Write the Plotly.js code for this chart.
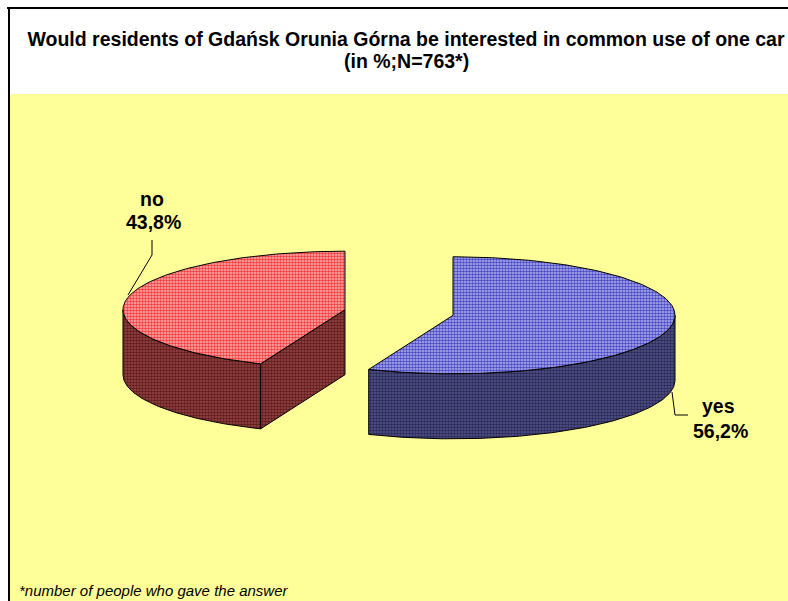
<!DOCTYPE html>
<html><head><meta charset="utf-8">
<script src="https://cdn.plot.ly/plotly-3.0.1.min.js"></script>
<style>html,body{margin:0;padding:0;background:#fff;overflow:hidden}</style>
</head><body><div id="chart" style="width:788px;height:601px"></div>
<script>
// ---- data ----
const categories = ["yes", "no"];
const values = [56.2, 43.8];
const titleLine1 = "Would residents of Gdańsk Orunia Górna be interested in common use of one car";
const titleLine2 = "(in %;N=763*)";
const footnote = "*number of people who gave the answer";

// ---- styling / geometry ----
const W = 788, H = 601;
const CX = 399, CY = 312.5, RX = 222, RY = 58.5, DEPTH = 65, EXPLODE = 0.248;
const topColors = ["#7B7BDB", "#F26C6C"];
const sideColors = ["#3D3D72", "#7E2E2E"];
const topPattern = [{ bg: "#B4B4EE", fg: "#4848C4" }, { bg: "#FFB4B4", fg: "#F03C3C" }];
const sidePattern = [{ bg: "#55558A", fg: "#2A2A5A" }, { bg: "#9A4646", fg: "#5E1C1C" }];
const FONT = "Liberation Sans, Arial, sans-serif";

const total = values.reduce((a, b) => a + b, 0);
const rad = d => d * Math.PI / 180;
function pt(c, deg, dy) { return [c[0] + RX * Math.cos(rad(deg)), c[1] - RY * Math.sin(rad(deg)) + (dy || 0)]; }
function arc(c, from, to, dy) {
  const pts = [], n = Math.max(2, Math.ceil(Math.abs(from - to)));
  for (let k = 0; k <= n; k++) pts.push(pt(c, from + (to - from) * k / n, dy));
  return pts;
}
function poly(pts, fill, pat, name) {
  return { type: "scatter", mode: "lines", x: pts.map(p => p[0]), y: pts.map(p => p[1]),
    fill: "toself", fillcolor: fill,
    fillpattern: { shape: ".", size: 3, solidity: 0.55, bgcolor: pat.bg, fgcolor: pat.fg, fillmode: "replace" },
    line: { color: "#000", width: 1 },
    hoverinfo: "skip", showlegend: false, name: name };
}

const sideTraces = [], topTraces = [];
let start = 90;
values.forEach((v, i) => {
  const sweep = 360 * v / total;
  const s = start, e = start - sweep, bis = (s + e) / 2;
  const c = [CX + EXPLODE * RX * Math.cos(rad(bis)), CY - EXPLODE * RY * Math.sin(rad(bis))];
  // visible front rim (angles where the rim faces the viewer)
  for (let k = -1; k <= 1; k++) {
    const lo = Math.max(e, -180 + 360 * k), hi = Math.min(s, 360 * k);
    if (hi - lo > 0.01) {
      const top = arc(c, hi, lo, 0), bot = arc(c, lo, hi, DEPTH);
      sideTraces.push(poly(top.concat(bot, [top[0]]), sideColors[i], sidePattern[i], categories[i]));
    }
  }
  // cut faces
  const faces = [];
  if (Math.sin(rad(s + 90)) < -1e-6) faces.push(s);
  if (Math.sin(rad(e - 90)) < -1e-6) faces.push(e);
  faces.forEach(a => {
    const p = pt(c, a, 0), pb = pt(c, a, DEPTH);
    sideTraces.push(poly([c, p, pb, [c[0], c[1] + DEPTH], c], sideColors[i], sidePattern[i], categories[i]));
  });
  // top surface
  const topPts = [c].concat(arc(c, s, e, 0), [c]);
  topTraces.push(poly(topPts, topColors[i], topPattern[i], categories[i]));
  start = e;
});

const fmt = v => v.toFixed(1).replace(".", ",") + "%";
const labelPos = { yes: [[718, 406], [720, 431]], no: [[152, 199], [153, 222]] };
const annotations = [];
categories.forEach((cat, i) => {
  const p = labelPos[cat];
  annotations.push({ x: p[0][0], y: p[0][1], xref: "x", yref: "y", text: "<b>" + cat + "</b>", showarrow: false,
    xanchor: "center", yanchor: "middle", font: { family: FONT, size: 19.5, color: "#000" } });
  annotations.push({ x: p[1][0], y: p[1][1], xref: "x", yref: "y", text: "<b>" + fmt(values[i]) + "</b>", showarrow: false,
    xanchor: "center", yanchor: "middle", font: { family: FONT, size: 19.5, color: "#000" } });
});
annotations.push({ x: 406, y: 60.5, xref: "x", yref: "y", text: "<b>" + titleLine2 + "</b>", showarrow: false,
  xanchor: "center", yanchor: "middle", font: { family: FONT, size: 19.5, color: "#000" } });
annotations.push({ x: 17, y: 590, xref: "x", yref: "y", text: "<i>" + footnote + "</i>", showarrow: false,
  xanchor: "left", yanchor: "middle", font: { family: FONT, size: 15, color: "#000" } });

const shapes = [
  { type: "rect", xref: "x", yref: "y", x0: 10, x1: W, y0: 94, y1: H, fillcolor: "#FFFF99", line: { width: 0 }, layer: "below" },
  { type: "line", xref: "x", yref: "y", x0: 7, x1: W, y0: 8, y1: 8, line: { color: "#000", width: 2 } },
  { type: "line", xref: "x", yref: "y", x0: 9, x1: 9, y0: 7, y1: H, line: { color: "#000", width: 2 } },
  { type: "path", xref: "x", yref: "y", path: "M152,240 L152,255 L128,295", line: { color: "#000", width: 1 } },
  { type: "path", xref: "x", yref: "y", path: "M672,392 L675,415 L688,415", line: { color: "#000", width: 1 } }
];

const layout = {
  width: W, height: H, margin: { l: 0, r: 0, t: 0, b: 0, pad: 0 },
  paper_bgcolor: "#ffffff", plot_bgcolor: "rgba(0,0,0,0)",
  title: { text: "<b>" + titleLine1 + "</b>", x: 406 / W, xref: "paper", xanchor: "center",
    y: 1 - 39 / H, yref: "container", yanchor: "middle", font: { family: FONT, size: 19.5, color: "#000" } },
  xaxis: { range: [0, W], visible: false, fixedrange: true },
  yaxis: { range: [H, 0], visible: false, fixedrange: true },
  showlegend: false, shapes: shapes, annotations: annotations
};
Plotly.newPlot("chart", sideTraces.concat(topTraces), layout, { staticPlot: true, displayModeBar: false });
</script></body></html>
